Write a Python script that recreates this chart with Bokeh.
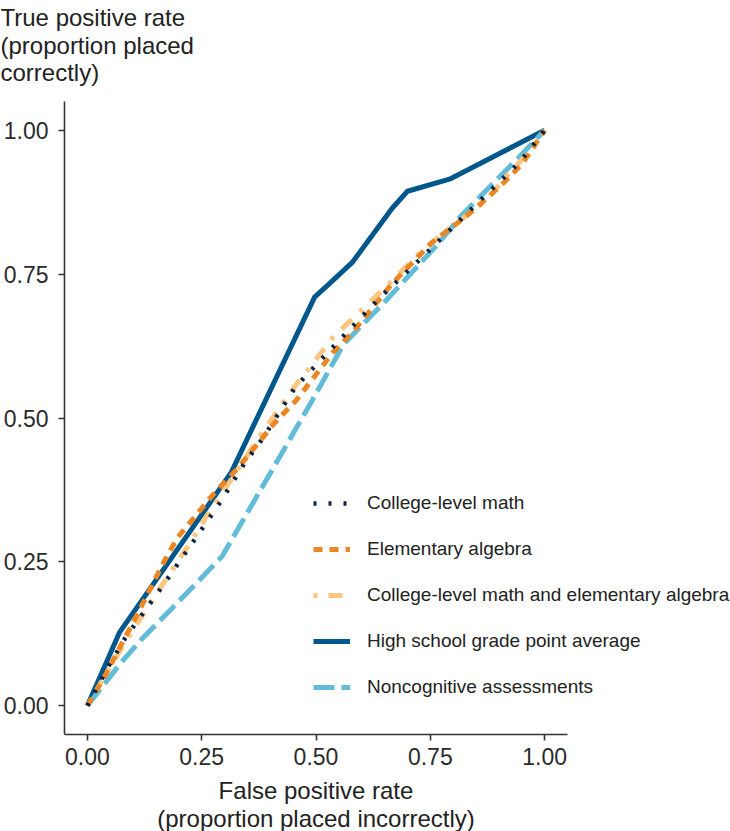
from bokeh.plotting import figure
from bokeh.models import Range1d, Legend, LegendItem, Label, FixedTicker, NumeralTickFormatter
from bokeh.embed import file_html
from bokeh.resources import INLINE

# ---- data ----
fpr_college_math = [0, 0.048, 0.083, 0.160, 0.234, 0.291, 0.344, 0.383, 0.455, 0.545, 0.637, 0.733, 0.851, 0.945, 1.0]
tpr_college_math = [0, 0.071, 0.118, 0.203, 0.288, 0.354, 0.422, 0.464, 0.554, 0.630, 0.707, 0.780, 0.872, 0.944, 1.0]

fpr_elem_algebra = [0, 0.042, 0.074, 0.103, 0.164, 0.197, 0.274, 0.326, 0.365, 0.409, 0.457, 0.536, 0.580, 0.667, 0.755, 0.818, 0.864, 0.912, 0.952, 1.0]
tpr_elem_algebra = [0, 0.057, 0.106, 0.149, 0.245, 0.292, 0.366, 0.410, 0.448, 0.491, 0.531, 0.613, 0.649, 0.734, 0.806, 0.844, 0.875, 0.910, 0.943, 1.0]

fpr_both = [0, 0.070, 0.096, 0.142, 0.168, 0.219, 0.267, 0.317, 0.372, 0.420, 0.449, 0.536, 0.595, 0.661, 0.726, 0.792, 0.869, 0.919, 0.985, 1.0]
tpr_both = [0, 0.094, 0.127, 0.184, 0.215, 0.276, 0.337, 0.396, 0.462, 0.517, 0.550, 0.639, 0.684, 0.734, 0.786, 0.830, 0.875, 0.922, 0.979, 1.0]

fpr_gpa = [0, 0.070, 0.315, 0.497, 0.530, 0.580, 0.667, 0.700, 0.792, 1.0]
tpr_gpa = [0, 0.127, 0.406, 0.710, 0.734, 0.771, 0.865, 0.894, 0.915, 1.0]

fpr_noncog = [0, 0.074, 0.118, 0.186, 0.241, 0.295, 0.405, 0.492, 0.560, 0.654, 0.764, 0.818, 0.884, 0.923, 1.0]
tpr_noncog = [0, 0.075, 0.115, 0.170, 0.215, 0.260, 0.411, 0.531, 0.628, 0.705, 0.800, 0.852, 0.905, 0.936, 1.0]

series_labels = [
    "College-level math",
    "Elementary algebra",
    "College-level math and elementary algebra",
    "High school grade point average",
    "Noncognitive assessments",
]
tick_values = [0, 0.25, 0.5, 0.75, 1.0]
y_title_lines = ["True positive rate", "(proportion placed", "correctly)"]
x_title_lines = ["False positive rate", "(proportion placed incorrectly)"]

FONT = "Liberation Sans"
W, H = 730, 831
# panel edges in canvas pixels and the padded data limits
PL, PR, PT, PB = 64, 567, 101, 734
LO, HI = -0.05, 1.05
KX = (PR - PL) / (HI - LO)
KY = (PB - PT) / (HI - LO)


def px_x(cx):
    return LO + (cx - PL) / KX


def px_y(cy):
    return LO + (PB - cy) / KY


p = figure(
    width=W, height=H,
    min_border_left=0, min_border_right=0, min_border_top=0, min_border_bottom=0,
    x_range=Range1d(px_x(0), px_x(W)), y_range=Range1d(px_y(H), px_y(0)),
    output_backend="svg", toolbar_location=None,
    background_fill_color="white", border_fill_color="white",
)
p.outline_line_color = None
p.grid.visible = False

for ax in (p.xaxis[0], p.yaxis[0]):
    ax.fixed_location = LO
    ax.bounds = (LO, HI)
    ax.ticker = FixedTicker(ticks=tick_values)
    ax.formatter = NumeralTickFormatter(format="0.00")
    ax.axis_line_color = "#333333"
    ax.axis_line_width = 1.6
    ax.major_tick_line_color = "#333333"
    ax.major_tick_line_width = 1.6
    ax.major_tick_out = 6
    ax.major_tick_in = 0
    ax.minor_tick_out = 0
    ax.minor_tick_in = 0
    ax.major_label_text_font = FONT
    ax.major_label_text_font_size = "23px"
    ax.major_label_text_color = "#2b2b2b"
p.xaxis[0].major_label_standoff = 7
p.yaxis[0].major_label_standoff = 10

r_gpa = p.line(fpr_gpa, tpr_gpa, line_color="#00578c", line_width=5, line_join="round")
r_noncog = p.line(fpr_noncog, tpr_noncog, line_color="#62bcd7", line_width=5, line_dash="21 7")
r_both = p.line(fpr_both, tpr_both, line_color="#fdc680", line_width=5, line_dash="4 11 14 11")
r_elem = p.line(fpr_elem_algebra, tpr_elem_algebra, line_color="#ec8623", line_width=5, line_dash="9 7")
r_cm = p.line(fpr_college_math, tpr_college_math, line_color="#0b2447", line_width=4.5, line_dash="3 12")

legend = Legend(
    items=[
        LegendItem(label=series_labels[0], renderers=[r_cm]),
        LegendItem(label=series_labels[1], renderers=[r_elem]),
        LegendItem(label=series_labels[2], renderers=[r_both]),
        LegendItem(label=series_labels[3], renderers=[r_gpa]),
        LegendItem(label=series_labels[4], renderers=[r_noncog]),
    ],
    location=(313, H - 698), orientation="vertical",
    glyph_width=37, glyph_height=22, label_height=22, label_standoff=17,
    spacing=24, padding=0, margin=0,
    border_line_color=None, background_fill_alpha=0,
    label_text_font=FONT, label_text_font_size="19px", label_text_color="#222222",
)
p.add_layout(legend)

for i, line in enumerate(y_title_lines):
    p.add_layout(Label(x=px_x(0), y=px_y(17 + 27.5 * i), text=line,
                       text_font=FONT, text_font_size="24px", text_color="#222222",
                       text_align="left", text_baseline="alphabetic"))

for i, line in enumerate(x_title_lines):
    p.add_layout(Label(x=px_x((PL + PR) / 2), y=px_y(790 + 28 * i), text=line,
                       text_font=FONT, text_font_size="24px", text_color="#222222",
                       text_align="center", text_baseline="alphabetic"))

open("out.html", "w").write(file_html(p, INLINE))
